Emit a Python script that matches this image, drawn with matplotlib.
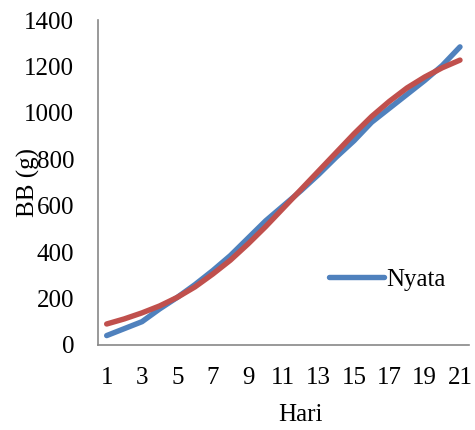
import matplotlib.pyplot as plt

# data
hari = list(range(1, 22))
nyata = [40, 70, 100, 155, 205, 260, 320, 385, 460, 535, 600,
         665, 735, 810, 880, 960, 1020, 1080, 1140, 1205, 1285]
model = [90, 112, 138, 168, 205, 250, 305, 365, 435, 510, 590,
         670, 750, 830, 910, 985, 1050, 1108, 1155, 1195, 1228]
xticks = list(range(1, 22, 2))
yticks = list(range(0, 1401, 200))

plt.rcParams['font.family'] = ['Liberation Serif', 'DejaVu Serif']

fig = plt.figure(figsize=(4.75, 4.3), dpi=100)
ax = fig.add_axes([0.206, 0.198, 0.781, 0.755])

ax.plot(hari, nyata, color='#4F81BD', linewidth=3.9, solid_capstyle='round', label='Nyata')
ax.plot(hari, model, color='#C0504D', linewidth=3.9, solid_capstyle='round')

ax.set_xlim(0.5, 21.5)
ax.set_ylim(0, 1400)
ax.set_xticks(xticks)
ax.set_yticks(yticks)
ax.tick_params(axis='both', length=0, labelsize=18, colors='black')
ax.tick_params(axis='x', pad=16)
ax.tick_params(axis='y', pad=17)

for s in ['top', 'right']:
    ax.spines[s].set_visible(False)
for s in ['left', 'bottom']:
    ax.spines[s].set_color('#888888')
    ax.spines[s].set_linewidth(1.2)

leg = ax.legend(loc='upper left', bbox_to_anchor=(0.589, 0.275), frameon=False,
                fontsize=18, handlelength=2.2, handletextpad=0.1, borderpad=0)

fig.text(0.059, 0.575, 'BB (g)', rotation=90, fontsize=18, ha='center', va='center')
fig.text(0.632, 0.035, 'Hari', fontsize=18, ha='center', va='center')

fig.savefig('out.png', dpi=100)
